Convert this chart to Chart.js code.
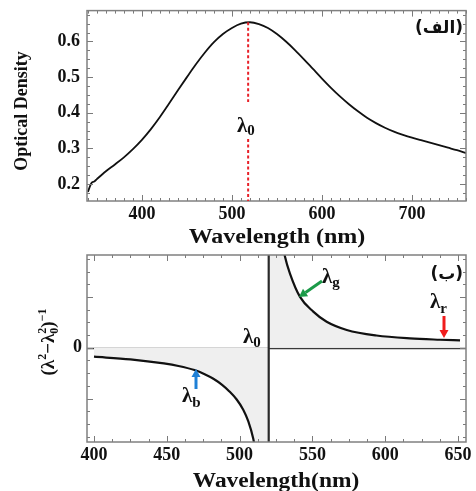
<!DOCTYPE html>
<html>
<head>
<meta charset="utf-8">
<script src="https://cdn.jsdelivr.net/npm/chart.js@4.4.1/dist/chart.umd.min.js"></script>
<style>
  body { margin: 0; background: #fff; width: 476px; height: 491px; overflow: hidden; }
  #topChart { position: absolute; left: 0; top: 0; z-index: 2; }
  #botChart { position: absolute; left: 0; top: 245px; z-index: 1; }
</style>
</head>
<body>
<canvas id="topChart" width="476" height="250"></canvas>
<canvas id="botChart" width="476" height="246"></canvas>
<script>
// (الف) absorption spectrum
const odWave = [340, 344, 347, 350, 360, 370, 380, 390, 400, 410, 420, 430, 440, 450, 460, 470, 480, 490, 500, 510,
  520, 530, 540, 550, 560, 570, 580, 590, 600, 610, 620, 630, 640, 650, 660, 670, 680, 690, 700, 710, 720, 730, 740, 750, 760];
const odValue = [0.178, 0.203, 0.207, 0.214, 0.236, 0.255, 0.275, 0.298, 0.324, 0.354, 0.388, 0.425, 0.463, 0.500, 0.536, 0.569, 0.598, 0.621, 0.638, 0.650,
  0.654, 0.649, 0.638, 0.621, 0.600, 0.576, 0.550, 0.523, 0.496, 0.470, 0.446, 0.424, 0.404, 0.386, 0.371, 0.358, 0.347, 0.338, 0.330, 0.323, 0.316, 0.309, 0.302, 0.295, 0.287];
const peakWave = 518;
const peakValue = 0.654;
const odTicksX = [400, 500, 600, 700];
const odTicksY = [0.2, 0.3, 0.4, 0.5, 0.6];

// (ب) 1/(λ² − λ0²), left and right branches
const blueWave = [400, 425, 448, 458, 469, 476, 482, 488, 493, 498, 502.5, 506, 509.4, 512, 516, 519.8];
const blueValue = [-0.177, -0.23, -0.31, -0.36, -0.44, -0.52, -0.61, -0.73, -0.86, -1.02, -1.22, -1.45, -1.79, -2.2, -3.5, -40];
const redWave = [520.2, 524, 528, 531.2, 534.6, 541.5, 550.6, 559.8, 573.6, 594, 617, 637.6, 651.4];
const redValue = [40, 4.0, 2.3, 1.79, 1.46, 1.00, 0.71, 0.51, 0.35, 0.24, 0.183, 0.157, 0.144];
const lambda0 = 520;
const disTicksX = [400, 450, 500, 550, 600, 650];

const serif = '"Liberation Serif", "Times New Roman", serif';
const tickFont = { family: serif, size: 18, weight: 'bold' };
const yTickFont = { family: serif, size: 18, weight: 'bold', lineHeight: 0.4 };

function pts(xs, ys) { return xs.map((x, i) => ({ x: x, y: ys[i] })); }

function drawTicks(chart, o) {
  const { ctx, chartArea: a, scales: { x, y } } = chart;
  ctx.save();
  ctx.strokeStyle = '#7a7a7a';
  ctx.lineWidth = 1;
  ctx.beginPath();
  let r = Math.round(o.xMajor / o.xMinor);
  for (let i = Math.ceil(x.min / o.xMinor); i * o.xMinor <= x.max; i++) {
    const p = Math.round(x.getPixelForValue(i * o.xMinor)) + 0.5;
    const len = i % r === 0 ? 6 : 3;
    ctx.moveTo(p, a.bottom); ctx.lineTo(p, a.bottom - len);
    ctx.moveTo(p, a.top); ctx.lineTo(p, a.top + len);
  }
  r = Math.round(o.yMajor / o.yMinor);
  for (let i = Math.ceil(y.min / o.yMinor - 1e-9); i * o.yMinor <= y.max + 1e-9; i++) {
    const p = Math.round(y.getPixelForValue(i * o.yMinor)) + 0.5;
    const len = i % r === 0 ? 6 : 3;
    ctx.moveTo(a.left, p); ctx.lineTo(a.left + len, p);
    ctx.moveTo(a.right, p); ctx.lineTo(a.right - len, p);
  }
  ctx.stroke();
  ctx.strokeStyle = '#808080';
  ctx.lineWidth = 1.5;
  ctx.strokeRect(a.left, a.top, a.right - a.left, a.bottom - a.top);
  ctx.restore();
}

function lam(ctx, x, y, sub, dy) {
  ctx.font = 'bold 21px ' + serif;
  ctx.fillStyle = '#111';
  ctx.textAlign = 'left';
  ctx.textBaseline = 'alphabetic';
  ctx.fillText('λ', x, y);
  const w = ctx.measureText('λ').width;
  ctx.font = 'bold 15px ' + serif;
  ctx.fillText(sub, x + w, y + dy);
}

function arrow(ctx, x1, y1, x2, y2, color) {
  const ang = Math.atan2(y2 - y1, x2 - x1), head = 8, hw = 4.5;
  const bx = x2 - head * Math.cos(ang), by = y2 - head * Math.sin(ang);
  ctx.save();
  ctx.strokeStyle = color; ctx.fillStyle = color; ctx.lineWidth = 3;
  ctx.beginPath(); ctx.moveTo(x1, y1); ctx.lineTo(bx, by); ctx.stroke();
  ctx.beginPath();
  ctx.moveTo(x2, y2);
  ctx.lineTo(bx + hw * Math.sin(ang), by - hw * Math.cos(ang));
  ctx.lineTo(bx - hw * Math.sin(ang), by + hw * Math.cos(ang));
  ctx.closePath(); ctx.fill();
  ctx.restore();
}

function wideText(ctx, txt, x, y, size, sx) {
  ctx.save();
  ctx.translate(x, y);
  ctx.scale(sx, 1);
  ctx.font = 'bold ' + size + 'px ' + serif;
  ctx.fillStyle = '#111';
  ctx.textAlign = 'center';
  ctx.textBaseline = 'alphabetic';
  ctx.fillText(txt, 0, 0);
  ctx.restore();
}

const topDecor = {
  id: 'topDecor',
  afterDatasetsDraw(chart) {
    const { ctx, chartArea: a, scales: { x, y } } = chart;
    drawTicks(chart, { xMinor: 10, xMajor: 100, yMinor: 0.025, yMajor: 0.1 });
    // dashed marker at the peak
    const px = x.getPixelForValue(peakWave);
    ctx.save();
    ctx.strokeStyle = '#e82028';
    ctx.lineWidth = 2;
    ctx.setLineDash([3, 2.5]);
    ctx.beginPath();
    ctx.moveTo(px, y.getPixelForValue(peakValue)); ctx.lineTo(px, 102);
    ctx.moveTo(px, 139); ctx.lineTo(px, a.bottom);
    ctx.stroke();
    ctx.restore();
    lam(ctx, 237, 132, '0', 3);
    // titles
    wideText(ctx, 'Wavelength (nm)', 277, 243, 20, 1.2);
    ctx.save();
    ctx.translate(27, 111);
    ctx.rotate(-Math.PI / 2);
    ctx.font = 'bold 18px ' + serif;
    ctx.fillStyle = '#111';
    ctx.textAlign = 'center';
    ctx.fillText('Optical Density', 0, 0);
    ctx.restore();
    ctx.save();
    ctx.font = 'bold 17px "DejaVu Sans", sans-serif';
    ctx.fillStyle = '#111';
    ctx.textAlign = 'right';
    ctx.fillText('(الف)', 463, 33);
    ctx.restore();
  }
};

const botDecor = {
  id: 'botDecor',
  beforeDatasetsDraw(chart) {
    const { ctx, chartArea: a, scales: { x, y } } = chart;
    ctx.save();
    ctx.strokeStyle = '#3a3a3a';
    ctx.lineWidth = 1.3;
    const py = Math.round(y.getPixelForValue(0)) + 0.5;
    ctx.beginPath(); ctx.moveTo(a.left, py); ctx.lineTo(a.right, py); ctx.stroke();
    ctx.restore();
  },
  afterDatasetsDraw(chart) {
    const { ctx, chartArea: a, scales: { x, y } } = chart;
    ctx.save();
    ctx.strokeStyle = '#2a2a2a';
    ctx.lineWidth = 2.2;
    const px = x.getPixelForValue(lambda0);
    ctx.beginPath(); ctx.moveTo(px, a.top); ctx.lineTo(px, a.bottom); ctx.stroke();
    ctx.restore();
    drawTicks(chart, { xMinor: 12.5, xMajor: 50, yMinor: 0.25, yMajor: 1 });
    lam(ctx, 243, 98, '0', 4);
    lam(ctx, 182, 157, 'b', 5);
    lam(ctx, 322, 38, 'g', 4);
    lam(ctx, 430, 63, 'r', 5);
    arrow(ctx, 196, 144, 196, 124, '#1e80d6');
    arrow(ctx, 322, 36, 299, 52, '#1b9a48');
    arrow(ctx, 444, 71, 444, 93, '#f01c1c');
    wideText(ctx, 'Wavelength(nm)', 276, 242, 20, 1.17);
    // y title (λ² − λ0²)^-1
    ctx.save();
    ctx.translate(54, 97);
    ctx.rotate(-Math.PI / 2);
    ctx.fillStyle = '#111';
    ctx.textBaseline = 'alphabetic';
    ctx.textAlign = 'left';
    const big = 'bold 19px ' + serif, small = 'bold 12px ' + serif;
    const parts = [
      { t: '(', f: big, dy: 0 }, { t: 'λ', f: big, dy: 0 }, { t: '2', f: small, dy: -8 },
      { t: '−', f: big, dy: 0 }, { t: 'λ', f: big, dy: 0 },
      { t: '2', f: small, dy: -8, stack: true }, { t: '0', f: small, dy: 4 },
      { t: ')', f: big, dy: 0 }, { t: '−1', f: small, dy: -8 }
    ];
    let total = 0;
    parts.forEach(p => { ctx.font = p.f; p.w = ctx.measureText(p.t).width; if (!p.stack) total += p.w; });
    let cx = -total / 2;
    parts.forEach(p => {
      ctx.font = p.f;
      ctx.fillText(p.t, cx, p.dy);
      if (!p.stack) cx += p.w;
    });
    ctx.restore();
    ctx.save();
    ctx.font = 'bold 17px "DejaVu Sans", sans-serif';
    ctx.fillStyle = '#111';
    ctx.textAlign = 'right';
    ctx.fillText('(ب)', 463, 34);
    ctx.restore();
  }
};

new Chart(document.getElementById('topChart'), {
  type: 'line',
  data: {
    datasets: [{
      data: pts(odWave, odValue),
      borderColor: '#111',
      borderWidth: 1.8,
      pointRadius: 0,
      cubicInterpolationMode: 'monotone',
      fill: false
    }]
  },
  options: {
    responsive: false,
    animation: false,
    layout: { padding: { left: 0, right: 10, top: 10, bottom: 0 } },
    plugins: { legend: { display: false }, tooltip: { enabled: false } },
    scales: {
      x: {
        type: 'linear', min: 339, max: 760,
        grid: { display: false, drawTicks: false }, border: { display: false },
        afterFit: s => { s.height = 49; },
        afterBuildTicks: s => { s.ticks = odTicksX.map(v => ({ value: v })); },
        ticks: { font: tickFont, color: '#111', padding: 3, maxRotation: 0, autoSkip: false }
      },
      y: {
        min: 0.1524, max: 0.6867,
        grid: { display: false, drawTicks: false }, border: { display: false },
        afterFit: s => { s.width = 87; },
        afterBuildTicks: s => { s.ticks = odTicksY.map(v => ({ value: v })); },
        ticks: { font: yTickFont, color: '#111', padding: 7, callback: v => v.toFixed(1) }
      }
    }
  },
  plugins: [topDecor]
});

new Chart(document.getElementById('botChart'), {
  type: 'line',
  data: {
    datasets: [{
      data: pts(blueWave, blueValue),
      borderColor: '#111',
      borderWidth: 2.2,
      backgroundColor: '#efefef',
      pointRadius: 0,
      cubicInterpolationMode: 'monotone',
      fill: 'origin'
    }, {
      data: pts(redWave, redValue),
      borderColor: '#111',
      borderWidth: 2.2,
      backgroundColor: '#efefef',
      pointRadius: 0,
      cubicInterpolationMode: 'monotone',
      fill: 'origin'
    }]
  },
  options: {
    responsive: false,
    animation: false,
    layout: { padding: { left: 0, right: 10, top: 10, bottom: 0 } },
    plugins: { legend: { display: false }, tooltip: { enabled: false } },
    scales: {
      x: {
        type: 'linear', min: 395.2, max: 655.5,
        grid: { display: false, drawTicks: false }, border: { display: false },
        afterFit: s => { s.height = 49; },
        afterBuildTicks: s => { s.ticks = disTicksX.map(v => ({ value: v })); },
        ticks: { font: tickFont, color: '#111', padding: 3, maxRotation: 0, autoSkip: false }
      },
      y: {
        min: -1.856, max: 1.825,
        grid: { display: false, drawTicks: false }, border: { display: false },
        afterFit: s => { s.width = 87; },
        afterBuildTicks: s => { s.ticks = [{ value: 0 }]; },
        ticks: { font: yTickFont, color: '#111', padding: 5 }
      }
    }
  },
  plugins: [botDecor]
});
</script>
</body>
</html>
